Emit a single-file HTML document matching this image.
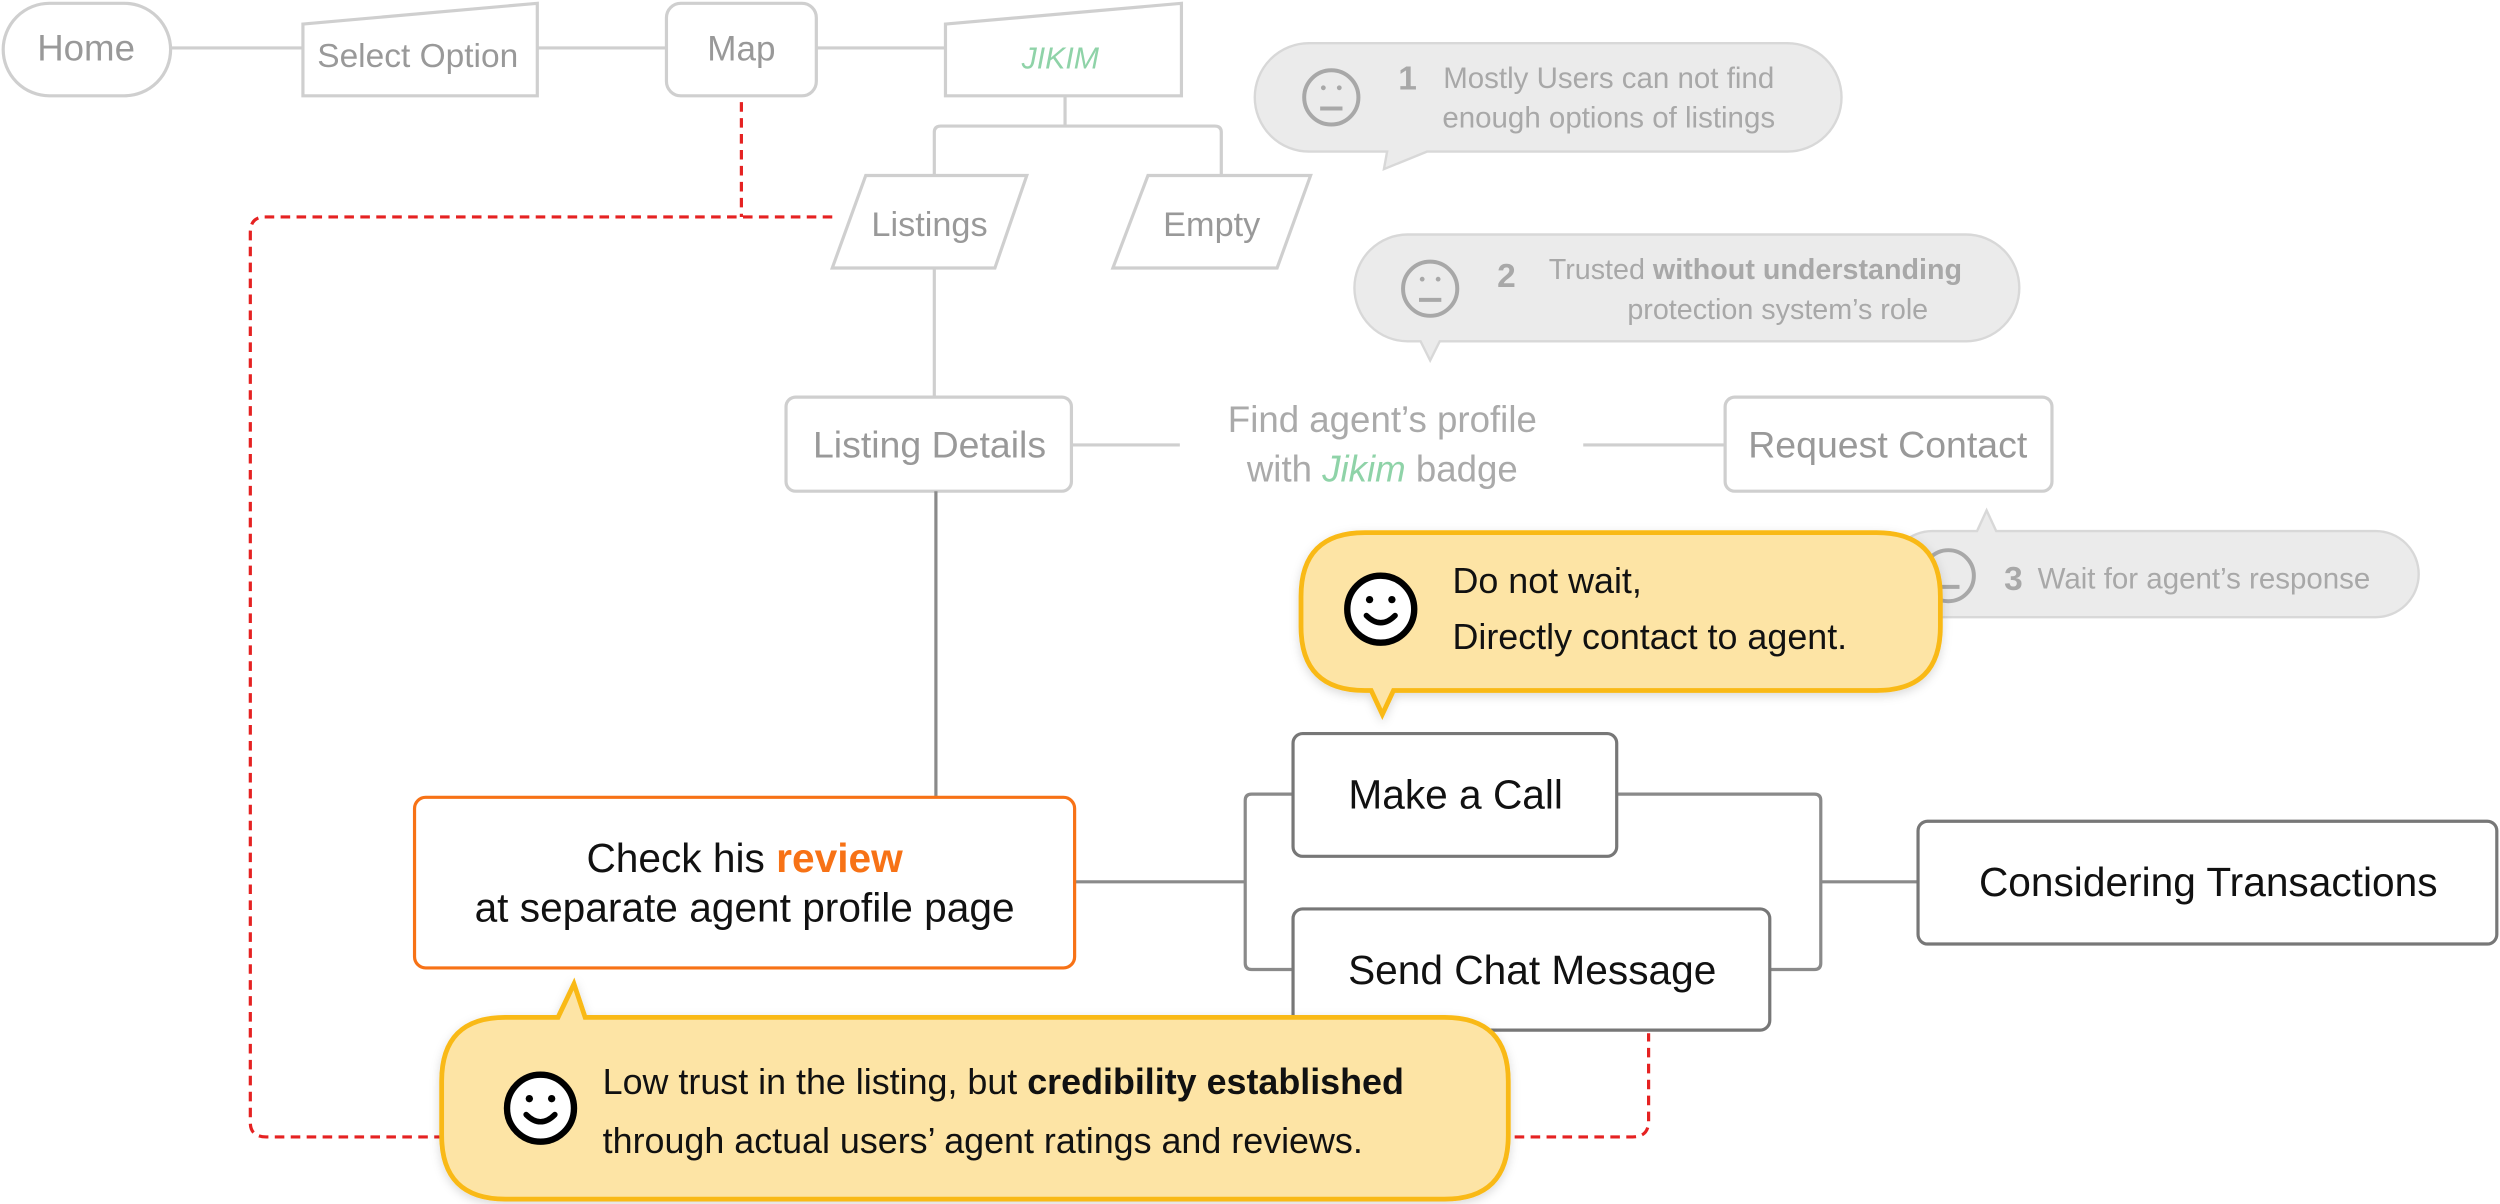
<!DOCTYPE html>
<html><head><meta charset="utf-8"><style>
html,body{margin:0;padding:0;background:#fff;}
svg{display:block;}
text{font-family:"Liberation Sans",Arial,sans-serif;}
</style></head><body>
<svg width="2500" height="1204" viewBox="0 0 1568 755" xmlns="http://www.w3.org/2000/svg">
<defs>
<filter id="sh" x="-10%" y="-20%" width="120%" height="150%"><feDropShadow dx="0" dy="2" stdDeviation="3" flood-color="#000" flood-opacity="0.15"/></filter>
</defs>
<g fill="none" stroke="#e52222" stroke-width="2" stroke-dasharray="6 4">
<path d="M465 64 V136"/>
<path d="M522 136 H166 Q157 136 157 146 V704 Q157 713 167 713 H290"/>
<path d="M930 713 H1024 Q1034 713 1034 703 V648"/>
</g>
<g fill="none" stroke="#cfcfcf" stroke-width="2">
<path d="M107 30 H190"/><path d="M337 30 H418"/><path d="M512 30 H593"/>
<path d="M668 60 V79"/><path d="M586 110 V83 Q586 79 590 79 H762 Q766 79 766 83 V110"/>
<path d="M586 168 V249"/>
<path d="M672 279 H740"/><path d="M993 279 H1082"/>
</g>
<g fill="#fff" stroke="#cfcfcf" stroke-width="2">
<rect x="2" y="2" width="105" height="58" rx="29"/>
<path d="M190 15 L337 2 V60 H190 Z"/>
<rect x="418" y="2" width="94" height="58" rx="9"/>
<path d="M593 15 L741 2 V60 H593 Z"/>
<path d="M543 110 H644 L624 168 H522 Z"/>
<path d="M720 110 H822 L801 168 H698 Z"/>
<rect x="493" y="249" width="179" height="59" rx="6"/>
<rect x="1082" y="249" width="205" height="59" rx="6"/>
</g>
<g fill="#999" font-size="22" text-anchor="middle">
<text x="54" y="38" font-size="23">Home</text>
<text x="262" y="42" font-size="21">Select Option</text>
<text x="465" y="38" font-size="22">Map</text>
<text x="665" y="43" fill="#8fd3a8" font-style="italic" font-size="19">JIKIM</text>
<text x="583" y="148" font-size="21.5">Listings</text>
<text x="760" y="148" font-size="21.5">Empty</text>
<text x="583" y="287" font-size="23.5">Listing Details</text>
<text x="1184" y="287" font-size="23.5">Request Contact</text>
<text x="867" y="271" fill="#aaa" font-size="23">Find agent’s profile</text>
<text x="867" y="302" fill="#aaa" font-size="23">with <tspan fill="#8fd3a8" font-style="italic">Jikim</tspan> badge</text>
</g>
<g fill="#ebebeb" stroke="#d8d8d8" stroke-width="1.5">
<path d="M821 27 H1121 A34 34 0 0 1 1121 95 H895 L868 106 L870 95 H821 A34 34 0 0 1 821 27 Z"/>
<path d="M883 147 H1233 A33.5 33.5 0 0 1 1233 214 H903 L897 226 L891 214 H883 A33.5 33.5 0 0 1 883 147 Z"/>
<path d="M1212 333 H1240 L1246 320 L1252 333 H1490 A27 27 0 0 1 1490 387 H1212 A27 27 0 0 1 1212 333 Z"/>
</g>
<g fill="none" stroke="#a8a8a8" stroke-width="2.5">
<circle cx="835" cy="61" r="17"/><path d="M828 68 H842"/>
<circle cx="897" cy="181" r="17"/><path d="M890 188 H904"/>
<circle cx="1222" cy="361" r="16"/><path d="M1215 368 H1229"/>
</g>
<g fill="#a8a8a8"><circle cx="830" cy="55" r="1.5"/><circle cx="840" cy="55" r="1.5"/><circle cx="892" cy="175" r="1.5"/><circle cx="902" cy="175" r="1.5"/></g>
<g fill="#a8a8a8" font-size="18.5">
<text x="877" y="56" font-weight="bold" font-size="21">1</text>
<text x="1009" y="55" text-anchor="middle">Mostly Users can not find</text>
<text x="1009" y="80" text-anchor="middle">enough options of listings</text>
<text x="939" y="180" font-weight="bold" font-size="21">2</text>
<text x="1101" y="175" text-anchor="middle" font-size="18">Trusted <tspan font-weight="bold">without understanding</tspan></text>
<text x="1115" y="200" text-anchor="middle" font-size="18">protection system’s role</text>
<text x="1257" y="370" font-weight="bold" font-size="21">3</text>
<text x="1278" y="369">Wait for agent’s response</text>
</g>
<g fill="none" stroke="#8a8a8a" stroke-width="2">
<path d="M587 308 V500"/>
<path d="M674 553 H781"/>
<path d="M811 498 H785 Q781 498 781 502 V604 Q781 608 785 608 H811"/>
<path d="M1014 498 H1138 Q1142 498 1142 502 V604 Q1142 608 1138 608 H1110"/>
<path d="M1142 553 H1203"/>
</g>
<g fill="#fff" stroke="#777" stroke-width="2">
<rect x="811" y="460" width="203" height="77" rx="6"/>
<rect x="811" y="570" width="299" height="76" rx="6"/>
<rect x="1203" y="515" width="363" height="77" rx="6"/>
</g>
<rect x="260" y="500" width="414" height="107" rx="7" fill="#fff" stroke="#f77216" stroke-width="2"/>
<g fill="#111" font-size="25.5" text-anchor="middle">
<text x="913" y="507">Make a Call</text>
<text x="961" y="617">Send Chat Message</text>
<text x="1385" y="562">Considering Transactions</text>
<text x="467" y="547">Check his <tspan fill="#f77216" font-weight="bold">review</tspan></text>
<text x="467" y="578">at separate agent profile page</text>
</g>
<g fill="#fde4a5" stroke="#f9b912" stroke-width="3" filter="url(#sh)">
<path d="M856 334 H1177 Q1217 334 1217 374 V393 Q1217 433 1177 433 H874 L867 448 L860 433 H856 Q816 433 816 393 V374 Q816 334 856 334 Z"/>
<path d="M317 638 H350 L360 617 L367 638 H906 Q946 638 946 678 V712 Q946 752 906 752 H317 Q277 752 277 712 V678 Q277 638 317 638 Z"/>
</g>
<g fill="#fff" stroke="#000" stroke-width="4">
<circle cx="866" cy="382" r="21"/>
<circle cx="339" cy="695" r="21"/>
</g>
<g fill="none" stroke="#000" stroke-width="3.5" stroke-linecap="round">
<path d="M857 386 Q866 395 875 386"/><path d="M330 699 Q339 708 348 699"/>
</g>
<g fill="#000"><circle cx="859" cy="376" r="2.3"/><circle cx="873" cy="376" r="2.3"/><circle cx="332" cy="689" r="2.3"/><circle cx="346" cy="689" r="2.3"/></g>
<g fill="#111" font-size="22.5" font-weight="500">
<text x="911" y="372">Do not wait,</text>
<text x="911" y="407">Directly contact to agent.</text>
<text x="378" y="686">Low trust in the listing, but <tspan font-weight="bold">credibility established</tspan></text>
<text x="378" y="723">through actual users’ agent ratings and reviews.</text>
</g>
</svg>
</body></html>
